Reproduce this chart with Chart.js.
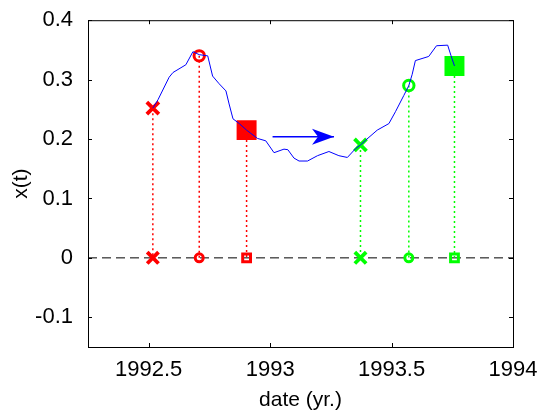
<!DOCTYPE html>
<html>
<head>
<meta charset="utf-8">
<script src="https://cdn.jsdelivr.net/npm/chart.js@4.4.1/dist/chart.umd.min.js"></script>
<style>
html, body { margin: 0; padding: 0; background: #fff; }
</style>
</head>
<body>
<canvas id="chart" width="542" height="419"></canvas>
<script>
// trajectory x(t)
const lineYears = [1992.517, 1992.538, 1992.584, 1992.600, 1992.653, 1992.682, 1992.708, 1992.743, 1992.763, 1992.790,
  1992.818, 1992.831, 1992.847, 1992.873, 1992.903, 1992.948, 1992.982, 1993.016, 1993.057, 1993.073,
  1993.098, 1993.119, 1993.154, 1993.195, 1993.242, 1993.283, 1993.318, 1993.352, 1993.372, 1993.393,
  1993.441, 1993.489, 1993.516, 1993.550, 1993.571, 1993.585, 1993.598, 1993.653, 1993.685, 1993.731,
  1993.745, 1993.759];
const lineValues = [0.252, 0.266, 0.304, 0.312, 0.325, 0.347, 0.342, 0.340, 0.306, 0.293,
  0.281, 0.259, 0.234, 0.226, 0.215, 0.201, 0.197, 0.177, 0.183, 0.182,
  0.168, 0.163, 0.163, 0.172, 0.179, 0.172, 0.169, 0.184, 0.190, 0.198,
  0.215, 0.226, 0.246, 0.273, 0.290, 0.309, 0.332, 0.339, 0.357, 0.358,
  0.340, 0.323];

// sampled points
const redYears = [1992.517, 1992.708, 1992.903];
const redValues = [0.252, 0.340, 0.215];
const greenYears = [1993.372, 1993.571, 1993.759];
const greenValues = [0.190, 0.290, 0.323];

// arrow
const arrowYears = [1993.01, 1993.263];
const arrowValues = [0.204, 0.204];

const xTicks = [1992.5, 1993, 1993.5, 1994];
const yTicks = [-0.1, 0, 0.1, 0.2, 0.3, 0.4];
const xMin = 1992.25, xMax = 1994;
const yMin = -0.15, yMax = 0.4;

const FONT = "'Liberation Sans', Arial, sans-serif";
const RED = "#ff0000";
const GREEN = "#00ff00";

const styles = ["crossRot", "circle", "rect"];

function stems(years, values, color) {
    return years.map((yr, i) => ({
        data: [{x: yr, y: values[i]}, {x: yr, y: 0}],
        borderColor: color,
        borderWidth: 1.5,
        borderDash: [2, 3],
        pointRadius: 0,
        order: 5
    }));
}

function marks(years, values, color, top) {
    return {
        data: years.map((yr, i) => ({x: yr, y: top ? values[i] : 0})),
        showLine: false,
        pointStyle: styles,
        pointRadius: top ? [8.5, 5.2, 12] : [8, 4, 5.5],
        pointBorderWidth: [3.8, 3, 3],
        pointBorderColor: color,
        pointBackgroundColor: top ? ["transparent", "transparent", color] : "transparent",
        order: 2
    };
}

const frameAndTicks = {
    id: "frameAndTicks",
    afterDraw(chart) {
        const {ctx, chartArea: a, scales: {x, y}} = chart;
        ctx.save();
        ctx.strokeStyle = "#000";
        ctx.lineWidth = 1;
        ctx.strokeRect(a.left + 0.5, a.top + 0.5, a.right - a.left, a.bottom - a.top);
        ctx.beginPath();
        xTicks.forEach(v => {
            const px = Math.round(x.getPixelForValue(v)) + 0.5;
            ctx.moveTo(px, a.bottom);
            ctx.lineTo(px, a.bottom - 4);
            ctx.moveTo(px, a.top);
            ctx.lineTo(px, a.top + 4);
        });
        yTicks.forEach(v => {
            const py = Math.round(y.getPixelForValue(v)) + 0.5;
            ctx.moveTo(a.left, py);
            ctx.lineTo(a.left + 4, py);
            ctx.moveTo(a.right, py);
            ctx.lineTo(a.right - 4, py);
        });
        ctx.stroke();
        ctx.restore();
    }
};

const arrowHead = {
    id: "arrowHead",
    afterDatasetsDraw(chart) {
        const {ctx, scales: {x, y}} = chart;
        const n = arrowYears.length - 1;
        const ex = x.getPixelForValue(arrowYears[n]);
        const ey = y.getPixelForValue(arrowValues[n]);
        ctx.save();
        ctx.fillStyle = "#0000ff";
        ctx.beginPath();
        ctx.moveTo(ex, ey);
        ctx.lineTo(ex - 22, ey - 8);
        ctx.lineTo(ex - 16, ey);
        ctx.lineTo(ex - 22, ey + 8);
        ctx.closePath();
        ctx.fill();
        ctx.restore();
    }
};

new Chart(document.getElementById("chart"), {
    type: "line",
    data: {
        datasets: [
            {
                data: lineYears.map((yr, i) => ({x: yr, y: lineValues[i]})),
                borderColor: "#0000ff",
                borderWidth: 1,
                pointRadius: 0,
                tension: 0,
                order: 1
            },
            {
                data: arrowYears.map((yr, i) => ({x: yr, y: arrowValues[i]})),
                borderColor: "#0000ff",
                borderWidth: 1.5,
                pointRadius: 0,
                order: 1
            },
            marks(redYears, redValues, RED, true),
            marks(redYears, redValues, RED, false),
            marks(greenYears, greenValues, GREEN, true),
            marks(greenYears, greenValues, GREEN, false),
            ...stems(redYears, redValues, RED),
            ...stems(greenYears, greenValues, GREEN),
            {
                data: [{x: xMin, y: 0}, {x: xMax, y: 0}],
                borderColor: "#000",
                borderWidth: 1,
                borderDash: [9, 5],
                pointRadius: 0,
                order: 6
            }
        ]
    },
    options: {
        responsive: false,
        animation: false,
        devicePixelRatio: 1,
        layout: {padding: {left: 0, right: 29, top: 17, bottom: 0}},
        plugins: {legend: {display: false}, tooltip: {enabled: false}},
        scales: {
            x: {
                type: "linear",
                min: xMin,
                max: xMax,
                afterBuildTicks: s => { s.ticks = xTicks.map(v => ({value: v})); },
                afterFit: s => { s.height = 72; },
                grid: {display: false},
                border: {display: false},
                ticks: {
                    color: "#000",
                    padding: 2,
                    maxRotation: 0,
                    font: {family: FONT, size: 22},
                    callback: v => String(v)
                },
                title: {
                    display: true,
                    text: "date (yr.)",
                    color: "#000",
                    font: {family: FONT, size: 21},
                    padding: {top: 0, bottom: 6}
                }
            },
            y: {
                min: yMin,
                max: yMax,
                afterBuildTicks: s => { s.ticks = yTicks.map(v => ({value: v})); },
                afterFit: s => { s.width = 88; },
                grid: {display: false},
                border: {display: false},
                ticks: {
                    color: "#000",
                    padding: 7,
                    font: {family: FONT, size: 22},
                    callback: v => String(v)
                },
                title: {
                    display: true,
                    text: "x(t)",
                    color: "#000",
                    font: {family: FONT, size: 21},
                    padding: {top: 9, bottom: 0}
                }
            }
        }
    },
    plugins: [frameAndTicks, arrowHead]
});
</script>
</body>
</html>
